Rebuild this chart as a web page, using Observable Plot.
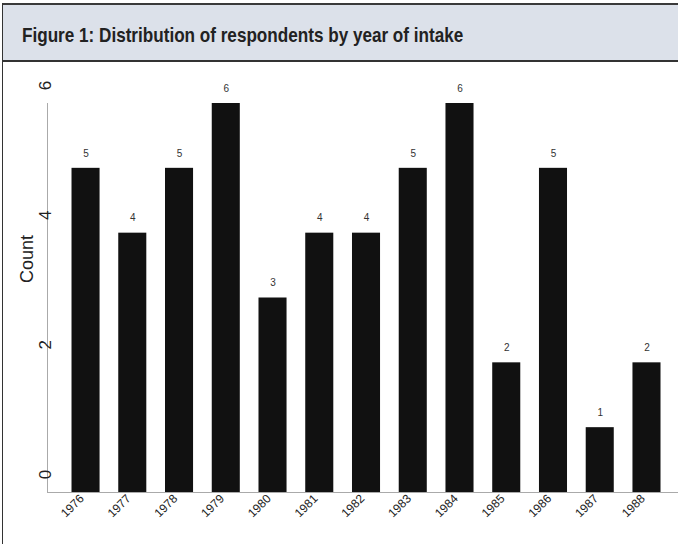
<!DOCTYPE html>
<html>
<head>
<meta charset="utf-8">
<script src="https://cdn.jsdelivr.net/npm/d3@7"></script>
<script src="https://cdn.jsdelivr.net/npm/@observablehq/plot@0.6"></script>
<style>
  html, body { margin: 0; padding: 0; background: #fff; }
  #wrap { position: relative; width: 676px; margin-left: 2px; margin-top: 3px; border-left: 1.5px solid #333; }
  #head { height: 55px; background: #dce1ea; border-top: 2px solid #3a3a3a; border-bottom: 2px solid #333;
          font-family: "Liberation Sans", Arial, sans-serif; font-weight: bold; font-size: 21px; color: #222;
          line-height: 60px; padding-left: 19px; box-sizing: content-box; overflow: hidden; white-space: nowrap; }
  #head span { display: inline-block; transform: scaleX(0.815); transform-origin: left center; }
  #chart svg { display: block; }
</style>
</head>
<body>
<div id="wrap">
  <div id="head"><span>Figure 1: Distribution of respondents by year of intake</span></div>
  <div id="chart"></div>
</div>
<script>
const years = ["1976","1977","1978","1979","1980","1981","1982","1983","1984","1985","1986","1987","1988"];
const counts = [5,4,5,6,3,4,4,5,6,2,5,1,2];
const yTicks = [0,2,4,6];
const yLabel = "Count";

const data = years.map((y, i) => ({year: y, count: counts[i]}));

const chart = Plot.plot({
  width: 676,
  height: 482,
  marginLeft: 44,
  marginRight: 0,
  marginTop: 41,
  marginBottom: 52,
  style: {fontFamily: "'Liberation Sans', Arial, sans-serif", fontSize: "12px", background: "#fff", color: "#222"},
  x: {domain: years, paddingInner: 0.4, paddingOuter: 0.46, align: 0.57, round: false, label: null},
  y: {domain: [0, 6], label: null},
  marks: [
    Plot.frame({anchor: "left", stroke: "#aaa"}),
    Plot.ruleY([0], {stroke: "#aaa"}),
    Plot.barY(data, {x: "year", y: "count", fill: "#111"}),
    Plot.text(data, {x: "year", y: "count", text: d => String(d.count), dy: -15, fontSize: 10, fill: "#333"}),
    Plot.axisX({tickSize: 0, tickRotate: -45, tickPadding: 4, fontSize: 12, textAnchor: "end", label: null, dx: -4}),
    Plot.axisY({ticks: yTicks, tickFormat: "d", tickSize: 0, tickRotate: -90, textAnchor: "middle", tickPadding: -3, fontSize: 17, dy: -18, label: null}),
    Plot.text([yLabel], {frameAnchor: "left", text: d => d, rotate: -90, dx: -20, dy: -15, fontSize: 18, fill: "#222"})
  ]
});
document.getElementById("chart").appendChild(chart);
</script>
</body>
</html>
